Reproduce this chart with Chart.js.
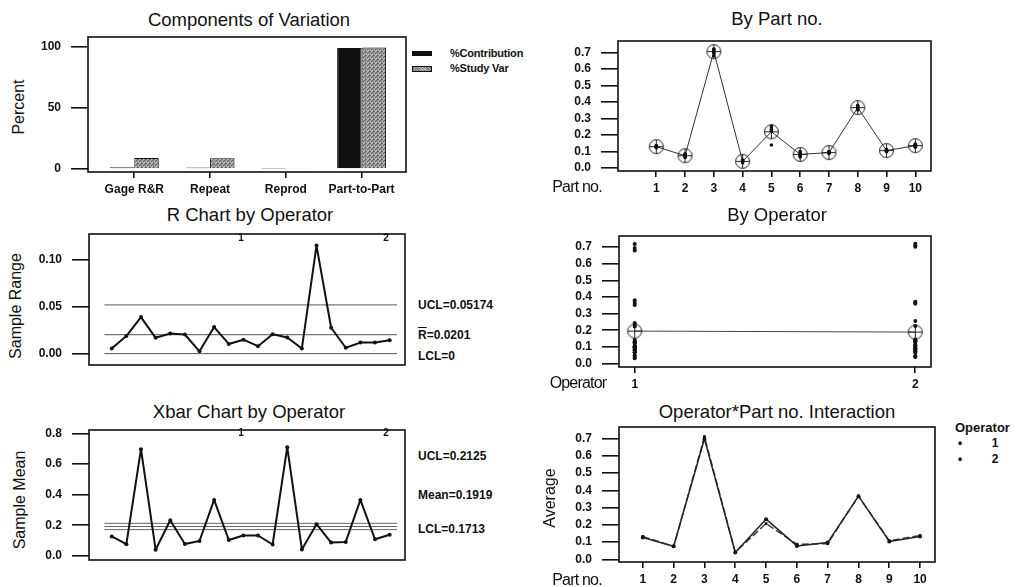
<!DOCTYPE html>
<html>
<head>
<meta charset="utf-8">
<script src="https://cdn.jsdelivr.net/npm/chart.js@4"></script>
<style>
  html, body { margin: 0; padding: 0; background: #fff; }
  #wrap { position: relative; width: 1019px; height: 587px; overflow: hidden;
    font-family: "Liberation Sans", Arial, sans-serif; color: #111; }
  #wrap canvas { position: absolute; }
  .lbl { position: absolute; white-space: nowrap; line-height: 1; }
  .ttl { font-size: 18.5px; }
  .ax { font-size: 16px; }
  .b12 { font-size: 12px; font-weight: bold; }
  .b11 { font-size: 11px; font-weight: bold; }
  .b10 { font-size: 10px; font-weight: bold; }
</style>
</head>
<body>
<div id="wrap"></div>
<script>
// Components of variation
const compLabels = ["Gage R&R", "Repeat", "Reprod", "Part-to-Part"];
const pctContribution = [1.5, 1.3, 0.3, 99.2];
const pctStudyVar = [9.0, 8.9, 0.9, 99.6];
const pctTicks = [0, 50, 100];

// parts / operators
const partNos = [1, 2, 3, 4, 5, 6, 7, 8, 9, 10];
const partMeans = [0.130, 0.075, 0.705, 0.041, 0.220, 0.083, 0.094, 0.366, 0.106, 0.136];
const operators = [1, 2];
const opMeans = [0.195, 0.189];

// individual readings, 3 trials per part
const obsOp1 = [
  [0.124, 0.127, 0.130], [0.067, 0.076, 0.085], [0.680, 0.695, 0.719], [0.032, 0.040, 0.049],
  [0.222, 0.234, 0.243], [0.068, 0.078, 0.088], [0.096, 0.097, 0.098], [0.352, 0.366, 0.380],
  [0.099, 0.104, 0.109], [0.126, 0.133, 0.141]
];
const obsOp2 = [
  [0.129, 0.133, 0.137], [0.064, 0.074, 0.085], [0.703, 0.710, 0.720], [0.039, 0.042, 0.045],
  [0.140, 0.226, 0.255], [0.073, 0.087, 0.101], [0.088, 0.091, 0.094], [0.360, 0.366, 0.372],
  [0.102, 0.108, 0.114], [0.131, 0.138, 0.145]
];
const fracTicks = [0, 0.1, 0.2, 0.3, 0.4, 0.5, 0.6, 0.7];

// R chart / Xbar chart by operator (op1 parts 1-10, then op2 parts 1-10)
const rRanges = [0.0055, 0.0186, 0.0388, 0.0168, 0.0213, 0.0203, 0.0024, 0.0282, 0.0103, 0.0148,
  0.0079, 0.0206, 0.0172, 0.0055, 0.1148, 0.0275, 0.0062, 0.0117, 0.0117, 0.0141];
const rLimits = [0.05174, 0.0201, 0];
const rTicks = [0, 0.05, 0.10];

const xbarMeans = [0.127, 0.076, 0.698, 0.040, 0.233, 0.078, 0.097, 0.366, 0.104, 0.133,
  0.133, 0.074, 0.711, 0.042, 0.207, 0.087, 0.091, 0.366, 0.108, 0.138];
const xbarLimits = [0.2125, 0.1919, 0.1713];
const xbarTicks = [0, 0.1, 0.2, 0.3, 0.4, 0.5, 0.6, 0.7, 0.8];

const wrap = document.getElementById("wrap");
const PAD = 2;
const INK = "#111";

Chart.defaults.font.family = '"Liberation Sans", Arial, sans-serif';
Chart.defaults.color = INK;
Chart.defaults.animation = false;

function label(text, x, y, cls, anchor, rot) {
  const d = document.createElement("div");
  d.className = "lbl " + (cls || "");
  d.innerHTML = text;
  d.style.left = x + "px";
  d.style.top = y + "px";
  const tx = anchor === "left" ? "0" : "-50%";
  d.style.transform = `translate(${tx},-50%)` + (rot ? " rotate(-90deg)" : "");
  wrap.appendChild(d);
  return d;
}

const boxPlugin = {
  id: "box",
  afterDraw(c) {
    const a = c.chartArea, ctx = c.ctx;
    ctx.save();
    ctx.strokeStyle = INK;
    ctx.lineWidth = 1.6;
    ctx.strokeRect(a.left, a.top, a.right - a.left, a.bottom - a.top);
    ctx.restore();
  }
};

function yAxis(min, max, ticks, digits, width) {
  return {
    type: "linear", min, max,
    afterBuildTicks: s => { s.ticks = ticks.map(v => ({ value: v })); },
    afterFit: s => { s.width = width; s.paddingTop = 0; s.paddingBottom = 0; },
    grid: { drawOnChartArea: false, tickLength: 17, color: INK, lineWidth: 1.6 },
    border: { display: false },
    ticks: { padding: 10, font: { size: 12, weight: "bold" }, callback: v => v.toFixed(digits) }
  };
}

function xAxis(min, max, ticks, fmt, height) {
  if (!height) return { type: "linear", min, max, offset: false, display: false };
  return {
    type: "linear", min, max, offset: false,
    afterBuildTicks: s => { s.ticks = ticks.map(v => ({ value: v })); },
    afterFit: s => { s.height = height; s.paddingLeft = 0; s.paddingRight = 0; },
    grid: { offset: false, drawOnChartArea: false, tickLength: 6, color: INK, lineWidth: 1.6 },
    border: { display: false },
    ticks: { padding: 4, maxRotation: 0, autoSkip: false, font: { size: 12, weight: "bold" }, callback: fmt }
  };
}

function panel(box, yW, xH, config) {
  const cv = document.createElement("canvas");
  const w = yW + (box[2] - box[0]) + PAD;
  const h = PAD + (box[3] - box[1]) + (xH || PAD);
  cv.width = w; cv.height = h;
  cv.style.left = (box[0] - yW) + "px";
  cv.style.top = (box[1] - PAD) + "px";
  cv.style.width = w + "px";
  cv.style.height = h + "px";
  wrap.appendChild(cv);
  config.options = Object.assign({
    responsive: false,
    maintainAspectRatio: false,
    devicePixelRatio: 1,
    layout: { padding: { top: PAD, right: PAD, bottom: xH ? 0 : PAD, left: 0 } },
    plugins: { legend: { display: false }, tooltip: { enabled: false } }
  }, config.options);
  config.plugins = [boxPlugin];
  return new Chart(cv, config);
}

// circle with plus marker
function circlePlus() {
  const c = document.createElement("canvas");
  c.width = c.height = 17;
  const g = c.getContext("2d");
  g.strokeStyle = "#222";
  g.lineWidth = 1;
  g.beginPath();
  g.arc(8.5, 8.5, 7, 0, Math.PI * 2);
  g.moveTo(8.5, 1.5); g.lineTo(8.5, 15.5);
  g.moveTo(1.5, 8.5); g.lineTo(15.5, 8.5);
  g.stroke();
  return c;
}
const cpMark = circlePlus();

function speckle() {
  const c = document.createElement("canvas");
  c.width = c.height = 4;
  const g = c.getContext("2d");
  g.fillStyle = "#9a9a9a";
  g.fillRect(0, 0, 4, 4);
  g.fillStyle = "#666";
  [[0, 0], [2, 1], [1, 2], [3, 3], [3, 0]].forEach(p => g.fillRect(p[0], p[1], 1, 1));
  g.fillStyle = "#c8c8c8";
  [[1, 0], [0, 3], [2, 3]].forEach(p => g.fillRect(p[0], p[1], 1, 1));
  return g.createPattern(c, "repeat");
}

// ---------- Components of Variation ----------
panel([88, 37, 406, 172], 50, 24, {
  type: "bar",
  data: {
    datasets: [
      { data: pctContribution.map((v, i) => ({ x: i + 1, y: v })), backgroundColor: INK, borderColor: INK, borderWidth: 1 },
      { data: pctStudyVar.map((v, i) => ({ x: i + 1, y: v })), backgroundColor: speckle(), borderColor: INK, borderWidth: 1 }
    ]
  },
  options: {
    datasets: { bar: { categoryPercentage: 0.646, barPercentage: 1 } },
    scales: {
      x: xAxis(0.389, 4.586, [1, 2, 3, 4], v => compLabels[v - 1], 24),
      y: yAxis(-2.45, 108.2, pctTicks, 0, 50)
    }
  }
});
label("Components of Variation", 249, 20, "ttl");
label("Percent", 19, 107, "ax", "center", true);
const lg1 = document.createElement("div");
lg1.style.cssText = "position:absolute;left:412px;top:51px;width:20px;height:5px;background:#111;";
wrap.appendChild(lg1);
const lg2 = document.createElement("div");
lg2.style.cssText = "position:absolute;left:412px;top:66px;width:18px;height:4px;border:1px solid #111;background:repeating-linear-gradient(45deg,#777 0 1px,#bbb 1px 2px);";
wrap.appendChild(lg2);
label("%Contribution", 450, 53, "b11", "left").style.letterSpacing = "-0.2px";
label("%Study Var", 450, 68, "b11", "left").style.letterSpacing = "-0.2px";

// ---------- By Part no. ----------
const allObs = [];
partNos.forEach((p, i) => {
  obsOp1[i].concat(obsOp2[i]).forEach(v => allObs.push({ x: p, y: v }));
});
panel([618, 35, 937, 171], 50, 24, {
  type: "line",
  data: {
    datasets: [
      { data: allObs, showLine: false, pointRadius: 1.8, pointBackgroundColor: INK, pointBorderWidth: 0 },
      { data: partNos.map((p, i) => ({ x: p, y: partMeans[i] })), borderColor: "#333", borderWidth: 1,
        pointStyle: cpMark, pointRadius: 7 }
    ]
  },
  options: {
    scales: {
      x: xAxis(-0.33, 10.545, partNos, v => String(v), 24),
      y: yAxis(-0.0174, 0.769, fracTicks, 1, 50)
    }
  }
});
label("By Part no.", 777, 19, "ttl");
label("Part no.", 577, 187, "ax").style.letterSpacing = "-0.8px";

// ---------- R Chart by Operator ----------
const rMax = rRanges.length + 0.5;
panel([89, 232, 407, 367], 50, 0, {
  type: "line",
  data: {
    datasets: [
      { data: rRanges.map((v, i) => ({ x: i + 1, y: v })), borderColor: INK, borderWidth: 2, borderJoinStyle: "round",
        pointRadius: 2, pointBackgroundColor: INK, pointBorderWidth: 0 },
      ...rLimits.map(v => ({ data: [{ x: 0.5, y: v }, { x: rMax, y: v }], borderColor: "#555", borderWidth: 1, pointRadius: 0 }))
    ]
  },
  options: {
    scales: {
      x: xAxis(-0.554, 21.05, [], null, 0),
      y: yAxis(-0.0121, 0.1271, rTicks, 2, 50)
    }
  }
});
label("R Chart by Operator", 250, 215, "ttl");
label("Sample Range", 16, 306, "ax", "center", true);
label("UCL=0.05174", 418, 305, "b12", "left");
label('<span style="text-decoration:overline">R</span>=0.0201', 418, 335, "b12", "left");
label("LCL=0", 418, 356, "b12", "left");
label("1", 241, 238, "b10");
label("2", 386, 238, "b10");

// ---------- By Operator ----------
const opObs = [];
obsOp1.forEach(a => a.forEach(v => opObs.push({ x: operators[0], y: v })));
obsOp2.forEach(a => a.forEach(v => opObs.push({ x: operators[1], y: v })));
panel([619, 230, 937, 367], 50, 24, {
  type: "line",
  data: {
    datasets: [
      { data: opObs, showLine: false, pointRadius: 2, pointBackgroundColor: INK, pointBorderWidth: 0 },
      { data: operators.map((o, i) => ({ x: o, y: opMeans[i] })), borderColor: "#444", borderWidth: 1,
        pointStyle: cpMark, pointRadius: 7 }
    ]
  },
  options: {
    scales: {
      x: xAxis(0.944, 2.056, operators, v => String(v), 24),
      y: yAxis(-0.021, 0.767, fracTicks, 1, 50)
    }
  }
});
label("By Operator", 777, 215, "ttl");
label("Operator", 578, 383, "ax").style.letterSpacing = "-0.8px";

// ---------- Xbar Chart by Operator ----------
const xMax = xbarMeans.length + 0.5;
panel([89, 428, 407, 562], 50, 0, {
  type: "line",
  data: {
    datasets: [
      { data: xbarMeans.map((v, i) => ({ x: i + 1, y: v })), borderColor: INK, borderWidth: 2, borderJoinStyle: "round",
        pointRadius: 2, pointBackgroundColor: INK, pointBorderWidth: 0 },
      ...xbarLimits.map(v => ({ data: [{ x: 0.5, y: v }, { x: xMax, y: v }], borderColor: "#666", borderWidth: 1, pointRadius: 0 }))
    ]
  },
  options: {
    scales: {
      x: xAxis(-0.554, 21.05, [], null, 0),
      y: yAxis(-0.0273, 0.8235, xbarTicks, 1, 50)
    }
  }
});
label("Xbar Chart by Operator", 249, 412, "ttl");
label("Sample Mean", 20, 500, "ax", "center", true);
label("UCL=0.2125", 418, 456, "b12", "left");
label("Mean=0.1919", 418, 495, "b12", "left");
label("LCL=0.1713", 418, 529, "b12", "left");
label("1", 241, 433, "b10");
label("2", 386, 433, "b10");

// ---------- Operator*Part no. Interaction ----------
const n = partNos.length;
panel([619, 425, 937, 562], 50, 24, {
  type: "line",
  data: {
    datasets: [
      { data: partNos.map((p, i) => ({ x: p, y: xbarMeans[i] })), borderColor: "#222", borderWidth: 1.5, borderJoinStyle: "round",
        pointRadius: 2, pointBackgroundColor: INK, pointBorderWidth: 0 },
      { data: partNos.map((p, i) => ({ x: p, y: xbarMeans[n + i] })), borderColor: "#444", borderWidth: 1.5, borderJoinStyle: "round",
        borderDash: [7, 3], pointStyle: "rect", pointRadius: 2, pointBackgroundColor: INK, pointBorderWidth: 0 }
    ]
  },
  options: {
    scales: {
      x: xAxis(0.226, 10.484, partNos, v => String(v), 24),
      y: yAxis(-0.0154, 0.767, fracTicks, 1, 50)
    }
  }
});
label("Operator*Part no. Interaction", 777, 412, "ttl");
label("Average", 550, 498, "ax", "center", true);
label("Part no.", 577, 580, "ax").style.letterSpacing = "-0.8px";
label("Operator", 955, 427, "b12", "left").style.fontSize = "13px";
label("&bull;", 960, 443, "b12");
label("&bull;", 960, 459, "b12");
label("1", 995, 443, "b12");
label("2", 995, 459, "b12");
</script>
</body>
</html>
